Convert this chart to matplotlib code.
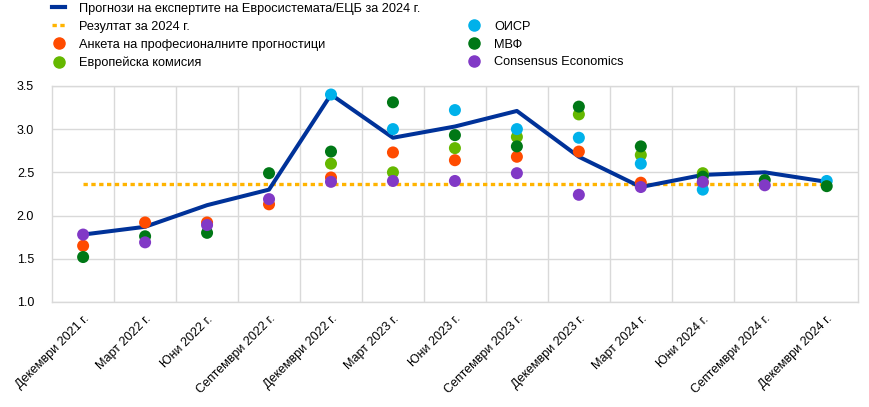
import numpy as np
import matplotlib
matplotlib.use("Agg")
import matplotlib.pyplot as plt  # noqa: E402
from matplotlib.lines import Line2D  # noqa: E402

plt.rcParams["font.family"] = ["Liberation Sans", "DejaVu Sans"]
plt.rcParams["font.size"] = 9

nan = np.nan
dates = ["Декември 2021 г.", "Март 2022 г.", "Юни 2022 г.", "Септември 2022 г.",
         "Декември 2022 г.", "Март 2023 г.", "Юни 2023 г.", "Септември 2023 г.",
         "Декември 2023 г.", "Март 2024 г.", "Юни 2024 г.", "Септември 2024 г.",
         "Декември 2024 г."]

eurosystem = [1.78, 1.87, 2.12, 2.30, 3.40, 2.90, 3.03, 3.21, 2.68, 2.33, 2.47, 2.50, 2.39]
outcome_2024 = 2.36
spf = [1.65, 1.92, 1.92, 2.13, 2.44, 2.73, 2.64, 2.68, 2.74, 2.38, 2.38, nan, nan]
ec = [nan, nan, nan, nan, 2.60, 2.50, 2.78, 2.91, 3.17, 2.70, 2.49, nan, nan]
oecd = [nan, nan, nan, nan, 3.40, 3.00, 3.22, 3.00, 2.90, 2.60, 2.30, nan, 2.40]
imf = [1.52, 1.76, 1.80, 2.49, 2.74, 3.31, 2.93, 2.80, 3.26, 2.80, 2.45, 2.41, 2.34]
consensus = [1.78, 1.69, 1.89, 2.19, 2.39, 2.40, 2.40, 2.49, 2.24, 2.33, 2.39, 2.35, nan]

BLUE = "#003299"
YELLOW = "#ffb400"
ORANGE = "#ff4b00"
LGREEN = "#65b800"
CYAN = "#00b1ea"
DGREEN = "#007816"
PURPLE = "#8139c6"
GRID = "#d9d9d9"
DOTS = (0, (1.3, 1.05))

fig = plt.figure(figsize=(8.69, 4.07), dpi=100)
ax = fig.add_axes([0.06, 0.258, 0.927, 0.531])

x = np.arange(len(dates))
ax.plot(x, eurosystem, color=BLUE, lw=2.9, zorder=3)
ax.plot([x[0], x[-1]], [outcome_2024] * 2, color=YELLOW, lw=2.4,
        linestyle=DOTS, dash_capstyle="butt", zorder=2)

series = [(spf, ORANGE), (ec, LGREEN), (oecd, CYAN), (imf, DGREEN), (consensus, PURPLE)]
for vals, col in series:
    ax.scatter(x, vals, s=75, color=col, edgecolor="none", zorder=4)

ax.set_xlim(-0.5, len(dates) - 0.5)
ax.set_ylim(1.0, 3.5)
yt = np.arange(1.0, 3.51, 0.5)
ax.set_yticks(yt)
ax.set_yticklabels(["{0:.1f}".format(v) for v in yt])
ax.set_xticks(x)
ax.set_xticklabels(dates, rotation=45, ha="right", rotation_mode="anchor")
ax.set_xticks(np.arange(0.5, len(dates) - 1, 1), minor=True)
ax.tick_params(which="both", length=0)
ax.tick_params(axis="x", pad=8)
ax.tick_params(axis="y", pad=13)
ax.grid(axis="y", color=GRID, lw=1)
ax.grid(axis="x", which="minor", color=GRID, lw=1)
for sp in ax.spines.values():
    sp.set_color(GRID)
    sp.set_linewidth(1)

# legend: two columns, right column starts on the second row
ms = 8
handles = [Line2D([], [], color=BLUE, lw=3),
           Line2D([], [], color=YELLOW, lw=2.4, linestyle=DOTS, dash_capstyle="butt"),
           Line2D([], [], marker="o", ls="", color=ORANGE, markersize=ms),
           Line2D([], [], marker="o", ls="", color=LGREEN, markersize=ms),
           Line2D([], [], ls="", marker=""),
           Line2D([], [], marker="o", ls="", color=CYAN, markersize=ms),
           Line2D([], [], marker="o", ls="", color=DGREEN, markersize=ms),
           Line2D([], [], marker="o", ls="", color=PURPLE, markersize=ms)]
labels = ["Прогнози на експертите на Евросистемата/ЕЦБ за 2024 г.",
          "Резултат за 2024 г.",
          "Анкета на професионалните прогностици",
          "Европейска комисия",
          "",
          "ОИСР", "МВФ", "Consensus Economics"]
fig.legend(handles, labels, ncol=2, loc="upper left", bbox_to_anchor=(0.06, 0.993),
           frameon=False, handlelength=1.0, handletextpad=1.1, labelspacing=0.46,
           columnspacing=3.7, borderaxespad=0, borderpad=0, fontsize=9.2)

fig.savefig("out.png", dpi=100)
